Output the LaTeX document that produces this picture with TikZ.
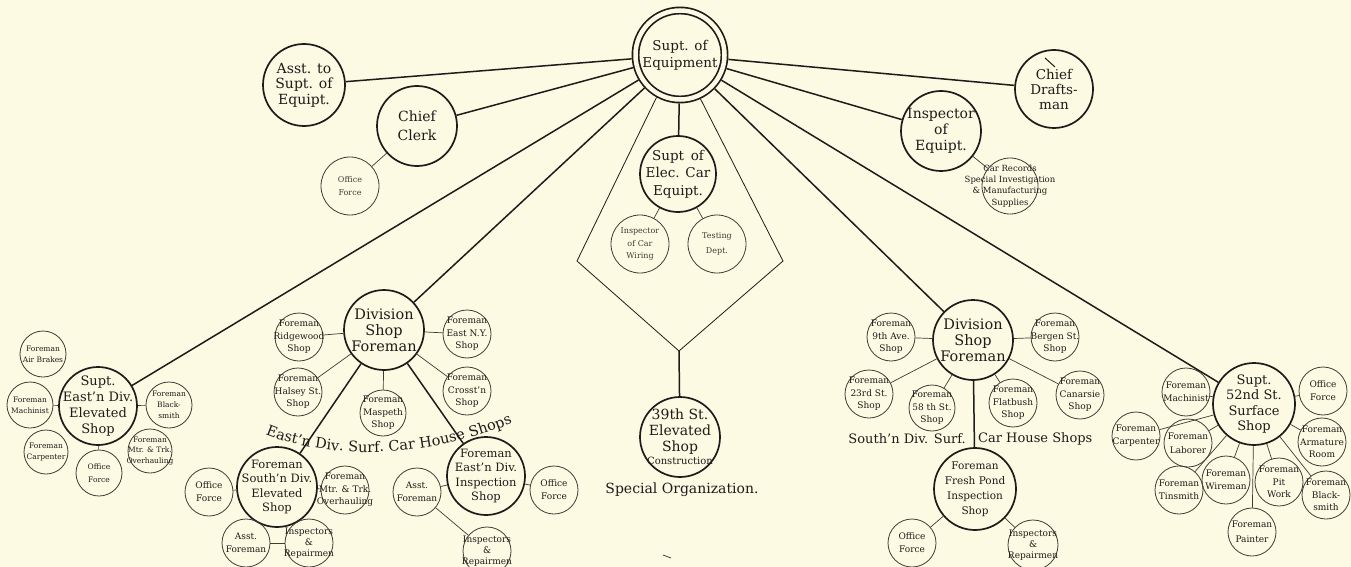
\documentclass[tikz,border=0pt]{standalone}
\usepackage{fontspec}
\setmainfont{DejaVu Serif}
\usetikzlibrary{decorations.text}
\definecolor{paper}{RGB}{252,250,226}
\definecolor{ink}{RGB}{28,28,26}
\definecolor{inkl}{RGB}{62,60,52}
\tikzset{
  big/.style={circle, draw=ink, line width=1.7pt, inner sep=0pt},
  sm/.style={circle, draw=inkl, line width=0.8pt, inner sep=0pt},
  bt/.style={align=center, inner sep=0pt, text=ink, font=\fontsize{14}{16.5}\selectfont},
  mt/.style={align=center, inner sep=0pt, text=ink, font=\fontsize{11.5}{14.5}\selectfont},
  st/.style={align=center, inner sep=0pt, text=ink, font=\fontsize{9}{12.5}\selectfont},
  s7/.style={align=center, inner sep=0pt, text=ink, font=\fontsize{7.5}{11}\selectfont},
  s8/.style={align=center, inner sep=0pt, text=inkl, font=\fontsize{8}{12.5}\selectfont},
  lbl/.style={inner sep=0pt, text=ink, font=\fontsize{13}{15}\selectfont},
  mainln/.style={draw=ink, line width=1.5pt},
  subln/.style={draw=inkl, line width=0.7pt},
  pentln/.style={draw=ink, line width=0.8pt}
}
\newcommand{\circnode}[6]{%
  \node[#1, minimum size=#4pt] (#2) at (#3) {};%
  \node[#6] (#2t) at (#2) {#5};}
\begin{document}
\begin{tikzpicture}[x=1pt,y=-1pt]
\fill[paper] (0,0) rectangle (1351,567);
\useasboundingbox (0,0) rectangle (1351,567);

% ---- top level
\node[big, double=paper, double distance=4.5pt, minimum size=89pt, outer sep=4pt] (eq) at (680,55) {};
\node[bt, font=\fontsize{13.5}{17}\selectfont] (eqt) at (eq) {Supt. of\\Equipment};
\circnode{big}{asst}{304,85}{82}{Asst. to\\Supt. of\\Equipt.}{bt, font=\fontsize{14}{15.5}\selectfont}
\circnode{big}{clerk}{417,126}{80}{Chief\\Clerk}{bt, font=\fontsize{14}{19}\selectfont}
\circnode{big}{elec}{678,174}{76}{Supt\enspace of\\Elec. Car\\Equipt.}{bt, font=\fontsize{13.5}{17.5}\selectfont}
\circnode{big}{insp}{941,131}{80}{Inspector\\of\\Equipt.}{bt, font=\fontsize{14}{16}\selectfont}
\circnode{big}{draft}{1054,89}{78}{Chief\\Drafts-\\man}{bt, font=\fontsize{13.5}{15}\selectfont}

\circnode{sm}{clerkoff}{350,186}{58}{Office\\Force}{s8}
\circnode{sm}{wiring}{640,244}{58}{Inspector\\of Car\\Wiring}{s8}
\circnode{sm}{testing}{717,244}{58}{Testing\\Dept.}{s8, font=\fontsize{8}{15}\selectfont}
\circnode{sm}{carrec}{1010,186}{56}{Car Records\\Special Investigation\\\& Manufacturing\\Supplies}{st, font=\fontsize{8.5}{11.3}\selectfont}

% ---- second level
\circnode{big}{eastel}{98,406}{78}{Supt.\\East'n Div.\\Elevated\\Shop}{bt, font=\fontsize{13}{16}\selectfont}
\circnode{big}{divL}{384,330}{80}{Division\\Shop\\Foreman}{bt, font=\fontsize{14.5}{16}\selectfont}
\circnode{big}{southel}{277,487}{80}{Foreman\\South'n Div.\\Elevated\\Shop}{mt}
\circnode{big}{eastinsp}{486,476}{78}{Foreman\\East'n Div.\\Inspection\\Shop}{mt}
\circnode{big}{st39}{680,437}{80}{39th St.\\Elevated\\Shop\\[-3pt]{\fontsize{10}{12}\selectfont Construction}}{bt, font=\fontsize{14}{16}\selectfont}
\circnode{big}{divR}{973,340}{80}{Division\\Shop\\Foreman}{bt, font=\fontsize{14.5}{16}\selectfont}
\circnode{big}{fresh}{975,489}{82}{Foreman\\Fresh Pond\\Inspection\\Shop}{mt, font=\fontsize{10.5}{15}\selectfont}
\circnode{big}{s52}{1254,404}{82}{Supt.\\52nd St.\\Surface\\Shop}{bt, font=\fontsize{13}{15.5}\selectfont}

% ---- left cluster
\circnode{sm}{airbr}{43,354}{46}{Foreman\\Air Brakes}{s7}
\circnode{sm}{machL}{30,405}{46}{Foreman\\Machinist}{s7}
\circnode{sm}{blackL}{169,405}{46}{Foreman\\Black-\\smith}{s7}
\circnode{sm}{carpL}{46,452}{44}{Foreman\\Carpenter}{s7}
\circnode{sm}{officeL}{99,473}{46}{Office\\Force}{s7, font=\fontsize{7.5}{13}\selectfont}
\circnode{sm}{mtrL}{150,451}{44}{Foreman\\Mtr. \& Trk.\\Overhauling}{s7, font=\fontsize{7.5}{10.5}\selectfont}

% ---- left division cluster
\circnode{sm}{ridge}{299,337}{48}{Foreman\\Ridgewood\\Shop}{st}
\circnode{sm}{eastny}{467,334}{48}{Foreman\\East N.Y.\\Shop}{st}
\circnode{sm}{halsey}{298,392}{48}{Foreman\\Halsey St.\\Shop}{st}
\circnode{sm}{maspeth}{383,413}{46}{Foreman\\Maspeth\\Shop}{st}
\circnode{sm}{crosst}{467,391}{48}{Foreman\\Crosst'n\\Shop}{st}
\circnode{sm}{soff}{209,492}{48}{Office\\Force}{st, font=\fontsize{9}{13}\selectfont}
\circnode{sm}{smtr}{345,490}{48}{Foreman\\Mtr. \& Trk.\\Overhauling}{st}
\circnode{sm}{sasst}{246,543}{48}{Asst.\\Foreman}{st, font=\fontsize{9}{13}\selectfont}
\circnode{sm}{sinsp}{309,543}{48}{Inspectors\\\&\\Repairmen}{st, font=\fontsize{9}{11}\selectfont}
\circnode{sm}{easst}{417,492}{48}{Asst.\\Foreman}{st, font=\fontsize{9}{13}\selectfont}
\circnode{sm}{eoff}{554,490}{48}{Office\\Force}{st, font=\fontsize{9}{13}\selectfont}
\circnode{sm}{einsp}{487,551}{48}{Inspectors\\\&\\Repairmen}{st, font=\fontsize{9}{11}\selectfont}

% ---- right division cluster
\circnode{sm}{ninth}{891,337}{48}{Foreman\\9th Ave.\\Shop}{st}
\circnode{sm}{bergen}{1055,337}{48}{Foreman\\Bergen St.\\Shop}{st}
\circnode{sm}{t23}{869,394}{48}{Foreman\\23rd St.\\Shop}{st}
\circnode{sm}{t58}{932,408}{46}{Foreman\\58 th St.\\Shop}{st}
\circnode{sm}{flat}{1013,403}{48}{Foreman\\Flatbush\\Shop}{st}
\circnode{sm}{canar}{1080,395}{48}{Foreman\\Canarsie\\Shop}{st}
\circnode{sm}{foff}{912,543}{48}{Office\\Force}{st, font=\fontsize{9}{13}\selectfont}
\circnode{sm}{finsp}{1033,545}{50}{Inspectors\\\&\\Repairmen}{st, font=\fontsize{9}{11}\selectfont}

% ---- 52nd St cluster
\circnode{sm}{mach52}{1186,392}{48}{Foreman\\Machinist}{st, font=\fontsize{9}{13}\selectfont}
\circnode{sm}{off52}{1323,391}{48}{Office\\Force}{st, font=\fontsize{9}{13}\selectfont}
\circnode{sm}{carp52}{1136,436}{48}{Foreman\\Carpenter}{st, font=\fontsize{9}{13}\selectfont}
\circnode{sm}{labor52}{1188,443}{48}{Foreman\\Laborer}{st, font=\fontsize{9}{14}\selectfont}
\circnode{sm}{arm52}{1322,442}{48}{Foreman\\Armature\\Room}{st}
\circnode{sm}{tin52}{1179,490}{48}{Foreman\\Tinsmith}{st, font=\fontsize{9}{13}\selectfont}
\circnode{sm}{wire52}{1226,480}{48}{Foreman\\Wireman}{st, font=\fontsize{9}{13}\selectfont}
\circnode{sm}{pit52}{1279,482}{48}{Foreman\\Pit\\Work}{st}
\circnode{sm}{black52}{1326,495}{48}{Foreman\\Black-\\smith}{st}
\circnode{sm}{paint52}{1252,532}{48}{Foreman\\Painter}{st, font=\fontsize{9}{15}\selectfont}

% ---- main connectors
\draw[mainln] (eq) -- (asst);
\draw[mainln] (eq) -- (clerk);
\draw[mainln] (eq) -- (elec);
\draw[mainln] (eq) -- (insp);
\draw[mainln] (eq) -- (draft);
\draw[mainln] (eq) -- (eastel);
\draw[mainln] (eq) -- (divL);
\draw[mainln] (eq) -- (divR);
\draw[mainln] (eq) -- (s52);
\draw[mainln] (divL) -- (southel);
\draw[mainln] (divL) -- (eastinsp);
\draw[mainln] (divR) -- (fresh);

% ---- special organization frame
\coordinate (pl) at (577,261);
\coordinate (pb) at (679,351);
\coordinate (pr) at (783,261);
\draw[pentln] (eq.241) -- (pl) -- (pb) -- (pr) -- (eq.295);
\draw[mainln] (pb) -- (st39);

% ---- sub connectors
\draw[subln] (clerk) -- (clerkoff);
\draw[subln] (elec) -- (wiring);
\draw[subln] (elec) -- (testing);
\draw[subln] (insp) -- (carrec);
\draw[subln] (eastel) -- (machL);
\draw[subln] (eastel) -- (blackL);
\draw[subln] (eastel) -- (officeL);
\foreach \n in {ridge,eastny,halsey,maspeth,crosst} \draw[subln] (divL) -- (\n);
\draw[subln] (southel) -- (soff);
\draw[subln] (southel) -- (smtr);
\draw[subln] (southel) -- (sinsp);
\draw[subln] (sasst) -- (sinsp);
\draw[subln] (eastinsp) -- (easst);
\draw[subln] (eastinsp) -- (eoff);
\draw[subln] (easst) -- (einsp);
\foreach \n in {ninth,bergen,t23,t58,flat,canar} \draw[subln] (divR) -- (\n);
\draw[subln] (fresh) -- (foff);
\draw[subln] (fresh) -- (finsp);
\foreach \n in {mach52,off52,carp52,labor52,arm52,tin52,wire52,pit52,black52,paint52} \draw[subln] (s52) -- (\n);

% ---- labels
\path[decorate, decoration={text along path, text align=center, text color=ink,
  text={|\fontsize{14.5}{14.5}\selectfont|East'n Div. Surf. Car House Shops}}]
  (260,432) .. controls (320,459) and (420,462) .. (518,421);
\node[lbl, anchor=east] (sdl) at (966,439) {South'n Div. Surf.};
\node[lbl, anchor=west] (sdr) at (978,439) {Car House Shops};
\node[lbl, font=\fontsize{14}{16}\selectfont] (spec) at (682,490) {Special Organization.};

% ---- small marks
\draw[ink, line width=1pt] (1045,58) -- (1055,67);
\draw[inkl, line width=0.8pt] (663,555) -- (671,558);
\end{tikzpicture}
\end{document}
